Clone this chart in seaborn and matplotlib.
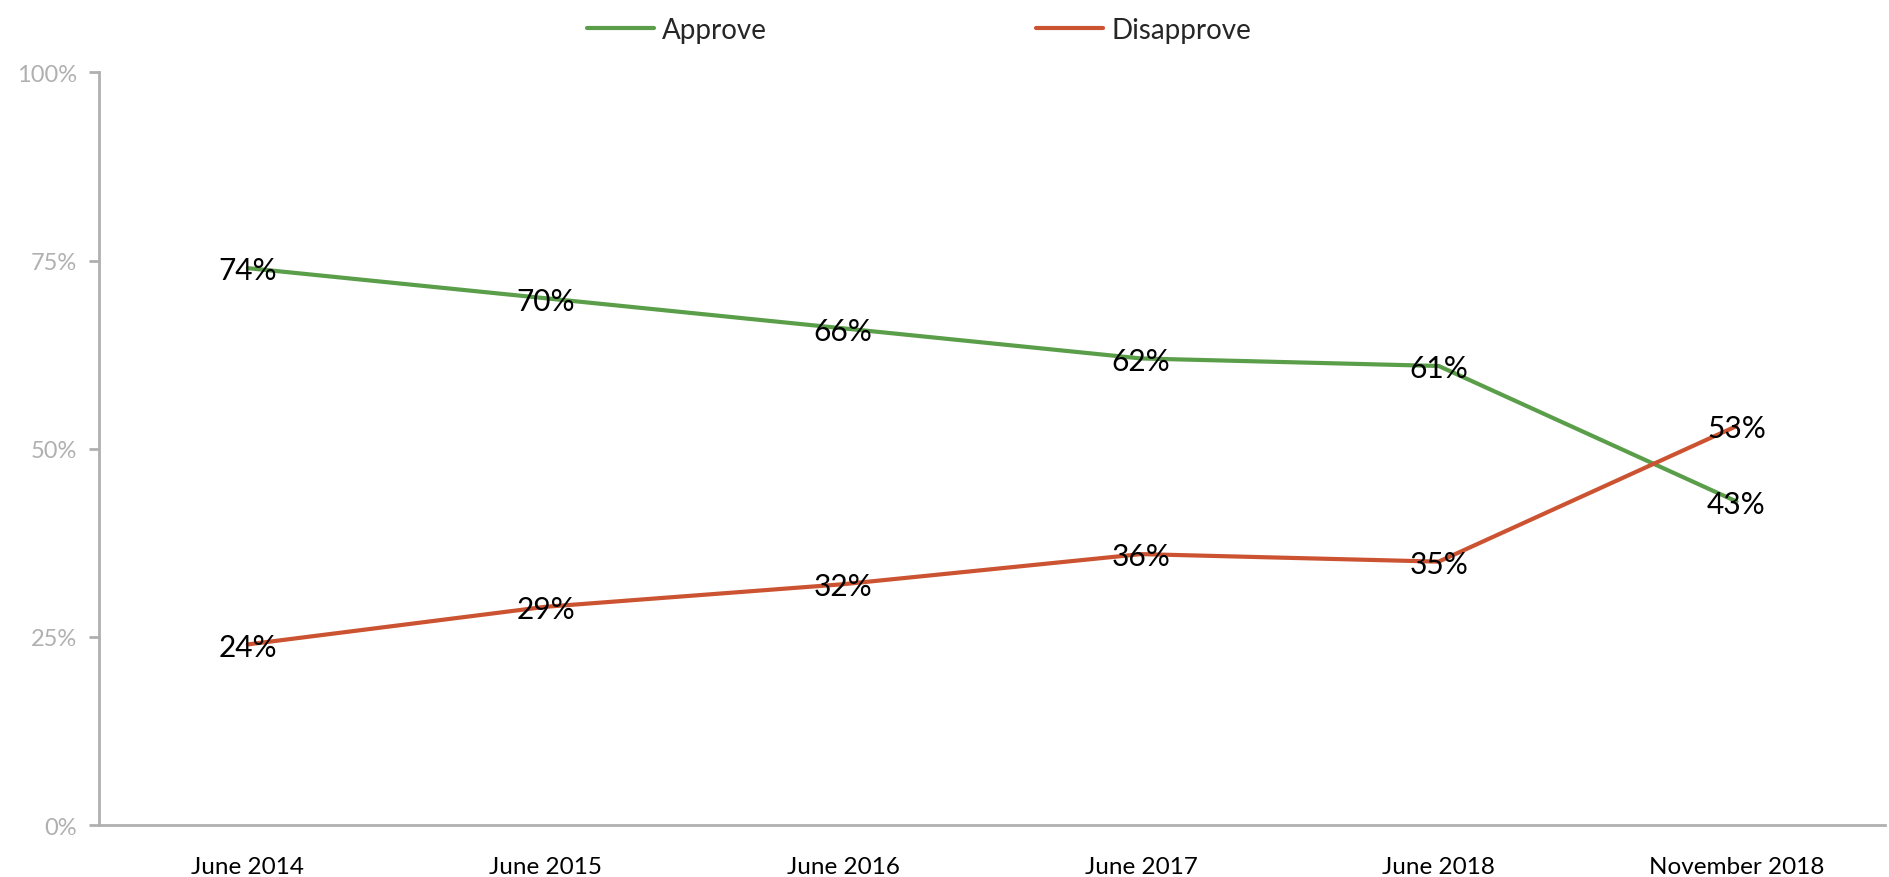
import pandas as pd
import matplotlib
matplotlib.use("Agg")
import matplotlib.pyplot as plt
import seaborn as sns

sns.set_style("white")
plt.rcParams["font.family"] = ["Lato", "DejaVu Sans"]

dates = ["June 2014", "June 2015", "June 2016", "June 2017", "June 2018", "November 2018"]
approve = [74, 70, 66, 62, 61, 43]
disapprove = [24, 29, 32, 36, 35, 53]

green = "#5a9e4a"
red = "#cc5331"
palette = {"Approve": green, "Disapprove": red}

df = pd.DataFrame({
    "date": dates * 2,
    "value": approve + disapprove,
    "series": ["Approve"] * len(dates) + ["Disapprove"] * len(dates),
})

fig = plt.figure(figsize=(18.89, 8.78), dpi=100)
ax = fig.add_axes([0.0524, 0.0592, 0.9456, 0.8571])

sns.lineplot(data=df, x="date", y="value", hue="series", palette=palette,
             linewidth=3, sort=False, ax=ax, legend=False)

# data labels centred on the points
for _, row in df.iterrows():
    ax.text(dates.index(row["date"]), row["value"] - 0.3, f"{row['value']}%",
            ha="center", va="center", fontsize=21.5, color="black")

ax.set_xlim(-0.5, len(dates) - 0.5)
ax.set_ylim(0, 100)
ax.set_yticks([0, 25, 50, 75, 100])
ax.set_yticklabels([f"{t}%" for t in [0, 25, 50, 75, 100]])
ax.set_xlabel("")
ax.set_ylabel("")

grey = "#b0b0b0"
for side in ["top", "right"]:
    ax.spines[side].set_visible(False)
for side in ["left", "bottom"]:
    ax.spines[side].set_color(grey)
    ax.spines[side].set_linewidth(2)
ax.tick_params(axis="y", colors=grey, labelsize=17, length=7, width=2, direction="out", left=True, pad=9)
ax.tick_params(axis="x", labelcolor="black", labelsize=17.5, length=0, pad=22)

handles = [plt.Line2D([], [], color=green, lw=3), plt.Line2D([], [], color=red, lw=3)]
fig.legend(handles, ["Approve", "Disapprove"], loc="upper center", bbox_to_anchor=(0.4865, 1.008),
           ncol=2, frameon=False, fontsize=20, handlelength=2.4, handletextpad=0.3, columnspacing=9.7)

fig.savefig("out.png", dpi=100)
